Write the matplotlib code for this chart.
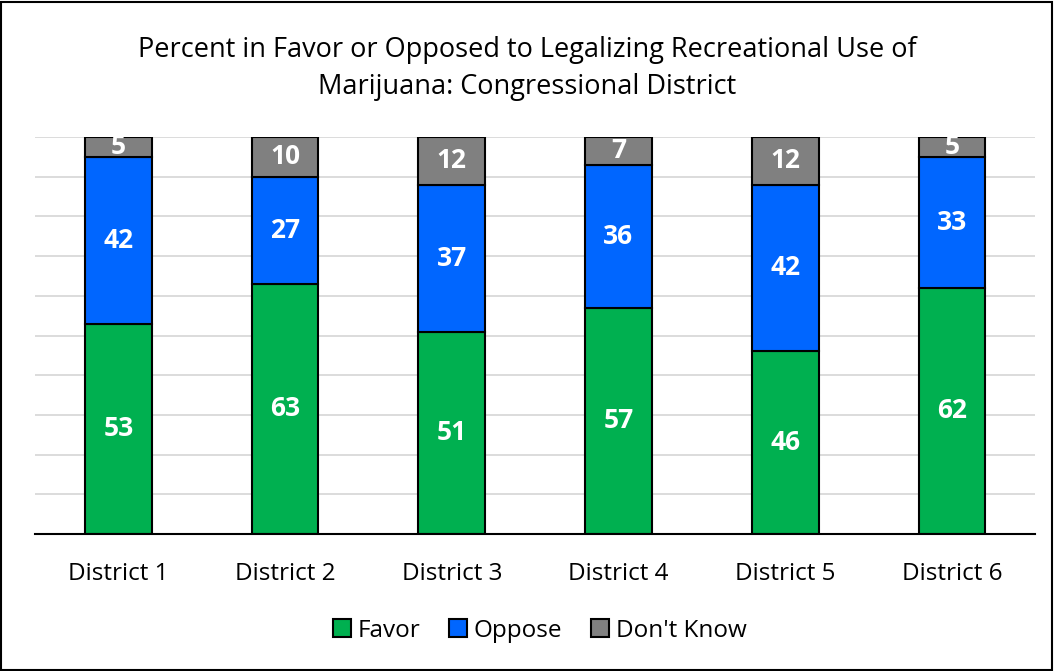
import matplotlib.pyplot as plt
import numpy as np
from matplotlib.patches import Rectangle

plt.rcParams["font.family"] = ["Open Sans", "DejaVu Sans"]

districts = ["District 1", "District 2", "District 3", "District 4", "District 5", "District 6"]
favor = [53, 63, 51, 57, 46, 62]
oppose = [42, 27, 37, 36, 42, 33]
dont_know = [5, 10, 12, 7, 12, 5]

series = [
    ("Favor", favor, "#00b050"),
    ("Oppose", oppose, "#0066ff"),
    ("Don't Know", dont_know, "#808080"),
]

fig = plt.figure(figsize=(10.54, 6.71), dpi=100)
ax = fig.add_axes([0.0332, 0.204, 0.949, 0.592])

x = np.arange(len(districts))
bottom = np.zeros(len(districts))
for name, vals, color in series:
    vals = np.array(vals)
    ax.bar(x, vals, 0.4, bottom=bottom, color=color, edgecolor="black",
           linewidth=1.5, label=name, zorder=3)
    for xi, b, v in zip(x, bottom, vals):
        ax.text(xi, b + v / 2, str(v), ha="center", va="center", color="white",
                fontsize=19, fontweight="bold", zorder=4)
    bottom += vals

ax.set_xlim(-0.5, len(districts) - 0.5)
ax.set_ylim(0, 100)
ax.set_yticks(np.arange(0, 101, 10))
ax.yaxis.grid(True, color="#d9d9d9", linewidth=1.3, zorder=0)
ax.tick_params(axis="y", left=False, labelleft=False)
ax.tick_params(axis="x", length=0, pad=20, labelsize=17.5)
ax.set_xticks(x)
ax.set_xticklabels(districts)
for side in ["left", "right", "top"]:
    ax.spines[side].set_visible(False)
ax.spines["bottom"].set_linewidth(1.5)
ax.spines["bottom"].set_zorder(5)

fig.text(0.5, 0.898, "Percent in Favor or Opposed to Legalizing Recreational Use of\nMarijuana: Congressional District",
         ha="center", va="center", fontsize=19.5, linespacing=1.45)

fig.legend(loc="center", bbox_to_anchor=(0.512, 0.06), ncol=3, frameon=False,
           fontsize=17.5, handlelength=0.75, handleheight=0.75, handletextpad=0.25,
           columnspacing=1.2)

fig.add_artist(Rectangle((0.001, 0.0015), 0.997, 0.996, transform=fig.transFigure,
                         fill=False, edgecolor="black", linewidth=1.5))

fig.savefig("out.png", dpi=100)
